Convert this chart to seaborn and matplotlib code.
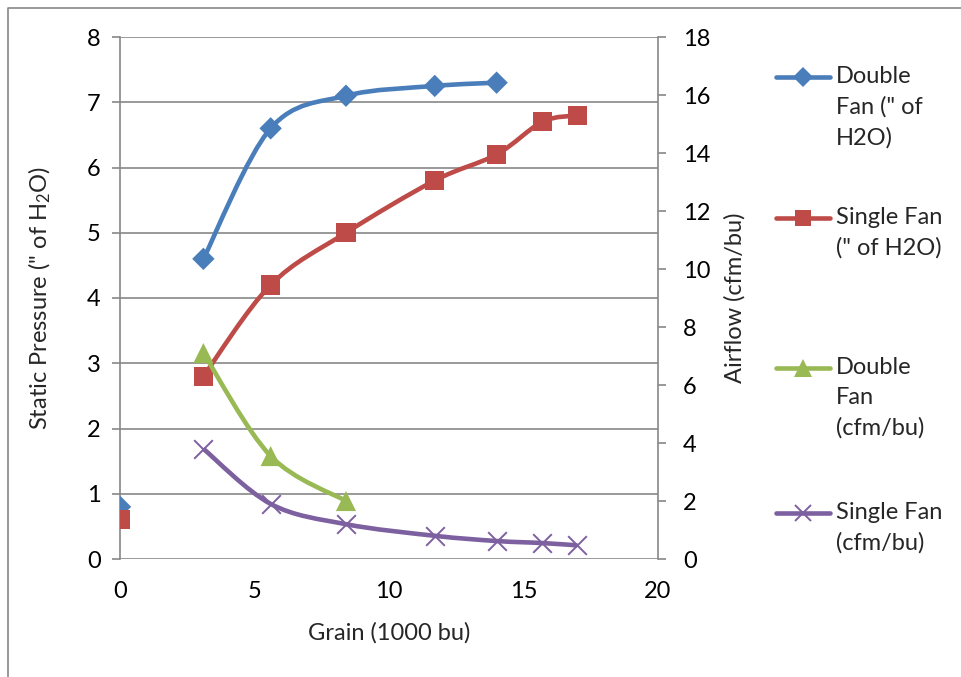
import numpy as np
import matplotlib
matplotlib.use("Agg")
import matplotlib.pyplot as plt
import seaborn as sns
from matplotlib.path import Path
from matplotlib.patches import PathPatch
from matplotlib.lines import Line2D

# ---------------- Data ---------------- #
grain = [0.0, 3.1, 5.6, 8.4, 11.7, 14.0, 15.7, 17.0]

double_sp = [0.8, 4.6, 6.6, 7.1, 7.25, 7.3]          # " of H2O, left axis
single_sp = [0.6, 2.8, 4.2, 5.0, 5.8, 6.2, 6.7, 6.8]  # " of H2O, left axis
double_af = [7.1, 3.55, 2.0]                          # cfm/bu, right axis (from 3.1)
single_af = [3.8, 1.9, 1.2, 0.8, 0.62, 0.55, 0.47]    # cfm/bu, right axis (from 3.1)

labels = ['Double\nFan (" of\nH2O)', 'Single Fan\n(" of H2O)',
          'Double\nFan\n(cfm/bu)', 'Single Fan\n(cfm/bu)']
colors = ['#4A7EBB', '#BE4B48', '#98B954', '#7D60A0']

sns.set_style("white")
plt.rcParams['font.family'] = ['Lato', 'DejaVu Sans']
plt.rcParams['mathtext.fontset'] = 'custom'
plt.rcParams['mathtext.rm'] = 'Lato'
plt.rcParams['mathtext.default'] = 'regular'

FS = 17
GRAY = '#888888'


def smooth_path(xs, ys):
    # Excel-style smoothed line: cubic bezier with catmull-rom control points
    pts = np.column_stack([xs, ys])
    n = len(pts)
    verts = [pts[0]]
    codes = [Path.MOVETO]
    for i in range(n - 1):
        p0 = pts[max(i - 1, 0)]
        p1 = pts[i]
        p2 = pts[i + 1]
        p3 = pts[min(i + 2, n - 1)]
        verts += [p1 + (p2 - p0) / 6, p2 - (p3 - p1) / 6, p2]
        codes += [Path.CURVE4] * 3
    return Path(verts, codes)


fig = plt.figure(figsize=(9.61, 6.77), dpi=100)
ax = fig.add_axes([120 / 961, 1 - 559 / 677, 538 / 961, 522 / 677])
ax2 = ax.twinx()

# lines (first point of each pressure series stands alone)
ax.add_patch(PathPatch(smooth_path(grain[1:len(double_sp)], double_sp[1:]),
                       fill=False, ec=colors[0], lw=3.3, zorder=3))
ax.add_patch(PathPatch(smooth_path(grain[1:], single_sp[1:]),
                       fill=False, ec=colors[1], lw=3.3, zorder=3))
ax2.add_patch(PathPatch(smooth_path(grain[1:1 + len(double_af)], double_af),
                        fill=False, ec=colors[2], lw=3.3, zorder=3))
ax2.add_patch(PathPatch(smooth_path(grain[1:], single_af),
                        fill=False, ec=colors[3], lw=3.3, zorder=3))

# markers
sns.scatterplot(x=grain[:len(double_sp)], y=double_sp, ax=ax, marker='D',
                s=130, color=colors[0], edgecolor='none', zorder=4)
sns.scatterplot(x=grain, y=single_sp, ax=ax, marker='s',
                s=190, color=colors[1], edgecolor='none', zorder=4)
sns.scatterplot(x=grain[1:1 + len(double_af)], y=double_af, ax=ax2, marker='^',
                s=210, color=colors[2], edgecolor='none', zorder=4)
sns.scatterplot(x=grain[1:], y=single_af, ax=ax2, marker='x',
                s=180, color=colors[3], linewidth=1.4, zorder=4)

# axes styling
ax.set_xlim(0, 20)
ax.set_ylim(0, 8)
ax2.set_ylim(0, 18)
ax.set_xticks(range(0, 21, 5))
ax.set_yticks(range(0, 9))
ax2.set_yticks(range(0, 19, 2))
ax.grid(axis='y', color=GRAY, lw=1.2)
ax.grid(axis='x', visible=False)
for a in (ax, ax2):
    for side in ('top', 'bottom'):
        a.spines[side].set_visible(False)
    for side in ('left', 'right'):
        a.spines[side].set_color(GRAY)
        a.spines[side].set_linewidth(1.2)
    a.tick_params(labelsize=FS, colors='black', length=0)
ax.spines['right'].set_visible(False)
ax2.spines['left'].set_visible(False)
ax.tick_params(axis='y', which='both', direction='out', length=6, width=1.2,
               color=GRAY, pad=8)
ax.tick_params(axis='x', direction='out', length=6, width=1.2, color=GRAY, pad=10)
ax2.tick_params(axis='y', direction='out', length=6, width=1.2, color=GRAY, pad=12)

ax.set_xlabel('Grain (1000 bu)', fontsize=FS, labelpad=14)
ax.set_ylabel('Static Pressure (" of H$_2$O)', fontsize=FS, labelpad=24)
ax2.set_ylabel('Airflow (cfm/bu)', fontsize=FS, labelpad=10)

# legend, handle aligned with the first text line
legend_y = [77, 218, 368, 513]
markers = ['D', 's', '^', 'x']
msizes = [10, 12, 13, 12]
for lab, col, yy, mk, ms in zip(labels, colors, legend_y, markers, msizes):
    yf = 1 - yy / 677
    fig.add_artist(Line2D([776 / 961, 830 / 961], [yf, yf], color=col, lw=3.3,
                          transform=fig.transFigure))
    fig.add_artist(Line2D([803 / 961], [yf], color=col, marker=mk, ms=ms,
                          mew=1.4 if mk == 'x' else 0, mfc=col, mec=col,
                          transform=fig.transFigure))
    fig.text(836 / 961, yf + 11 / 677, lab, fontsize=FS, va='top', ha='left',
             linespacing=1.52)

# chart area border (left and top visible)
fig.add_artist(Line2D([8 / 961, 8 / 961, 1], [0, 1 - 8 / 677, 1 - 8 / 677],
                      color=GRAY, lw=1.2, transform=fig.transFigure))

fig.savefig('out.png', dpi=100)
